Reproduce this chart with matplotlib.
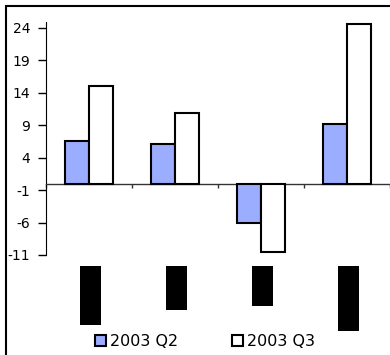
import numpy as np
import matplotlib.pyplot as plt
from matplotlib.patches import Rectangle
from matplotlib.transforms import blended_transform_factory

plt.rcParams["font.family"] = ["DejaVu Sans"]
plt.rcParams["font.size"] = 10
plt.rcParams["axes.unicode_minus"] = False

# quarterly changes per category
categories = ["A", "B", "C", "D"]
q2_2003 = [6.6, 6.1, -6.0, 9.2]
q3_2003 = [15.1, 10.9, -10.6, 24.6]
yticks = [-11, -6, -1, 4, 9, 14, 19, 24]

# length of the (blacked-out) category label boxes, in pixels
label_box_px = [59, 44, 40, 65]

fig = plt.figure(figsize=(3.9, 3.55), dpi=100)
ax = fig.add_axes([46 / 390, 1 - 255 / 355, 344 / 390, 233.5 / 355])

x = np.arange(len(categories))
w = 0.275
b1 = ax.bar(x - w / 2, q2_2003, w, color="#9BADFF", edgecolor="black",
            linewidth=1.5, label="2003 Q2", zorder=3)
b2 = ax.bar(x + w / 2, q3_2003, w, color="white", edgecolor="black",
            linewidth=1.5, label="2003 Q3", zorder=3)

ax.set_xlim(-0.5, len(categories) - 0.5)
ax.set_ylim(-11, 25)
ax.set_yticks(yticks)
ax.tick_params(axis="y", length=5.5, width=1, pad=6, direction="out",
               labelsize=10)

for s in ["top", "right"]:
    ax.spines[s].set_visible(False)
ax.spines["left"].set_bounds(-11, 25)
ax.spines["bottom"].set_position(("data", 0))
ax.spines["bottom"].set_color("#333333")
ax.spines["bottom"].set_linewidth(1)
ax.set_xticks(np.arange(len(categories) + 1) - 0.5)
ax.set_xticklabels([])
ax.tick_params(axis="x", length=3, width=1, direction="out", color="#333333")

# category labels are blacked out boxes under the axis
trans = blended_transform_factory(ax.transData, ax.transAxes)
box_w = 21 / 86
ax_h_px = 233.5
for xi, h in zip(x, label_box_px):
    ax.add_patch(Rectangle((xi + 1 / 86 - box_w / 2, -11 / ax_h_px - h / ax_h_px),
                           box_w, h / ax_h_px, transform=trans,
                           facecolor="black", edgecolor="none", clip_on=False))

fig.legend(handles=[b1, b2], loc="center", bbox_to_anchor=(0.526, 0.0375),
           ncol=2, frameon=False, fontsize=11.5, handlelength=0.68,
           handleheight=0.68, handletextpad=0.25, columnspacing=3.4,
           borderpad=0)

# outer chart frame (runs off the right and bottom edges)
fig.patches.append(Rectangle((6 / 390, -0.2), 1.3, 1.2 - 6 / 355,
                             transform=fig.transFigure, fill=False,
                             edgecolor="black", linewidth=1.5))

fig.savefig("out.png", dpi=100)
